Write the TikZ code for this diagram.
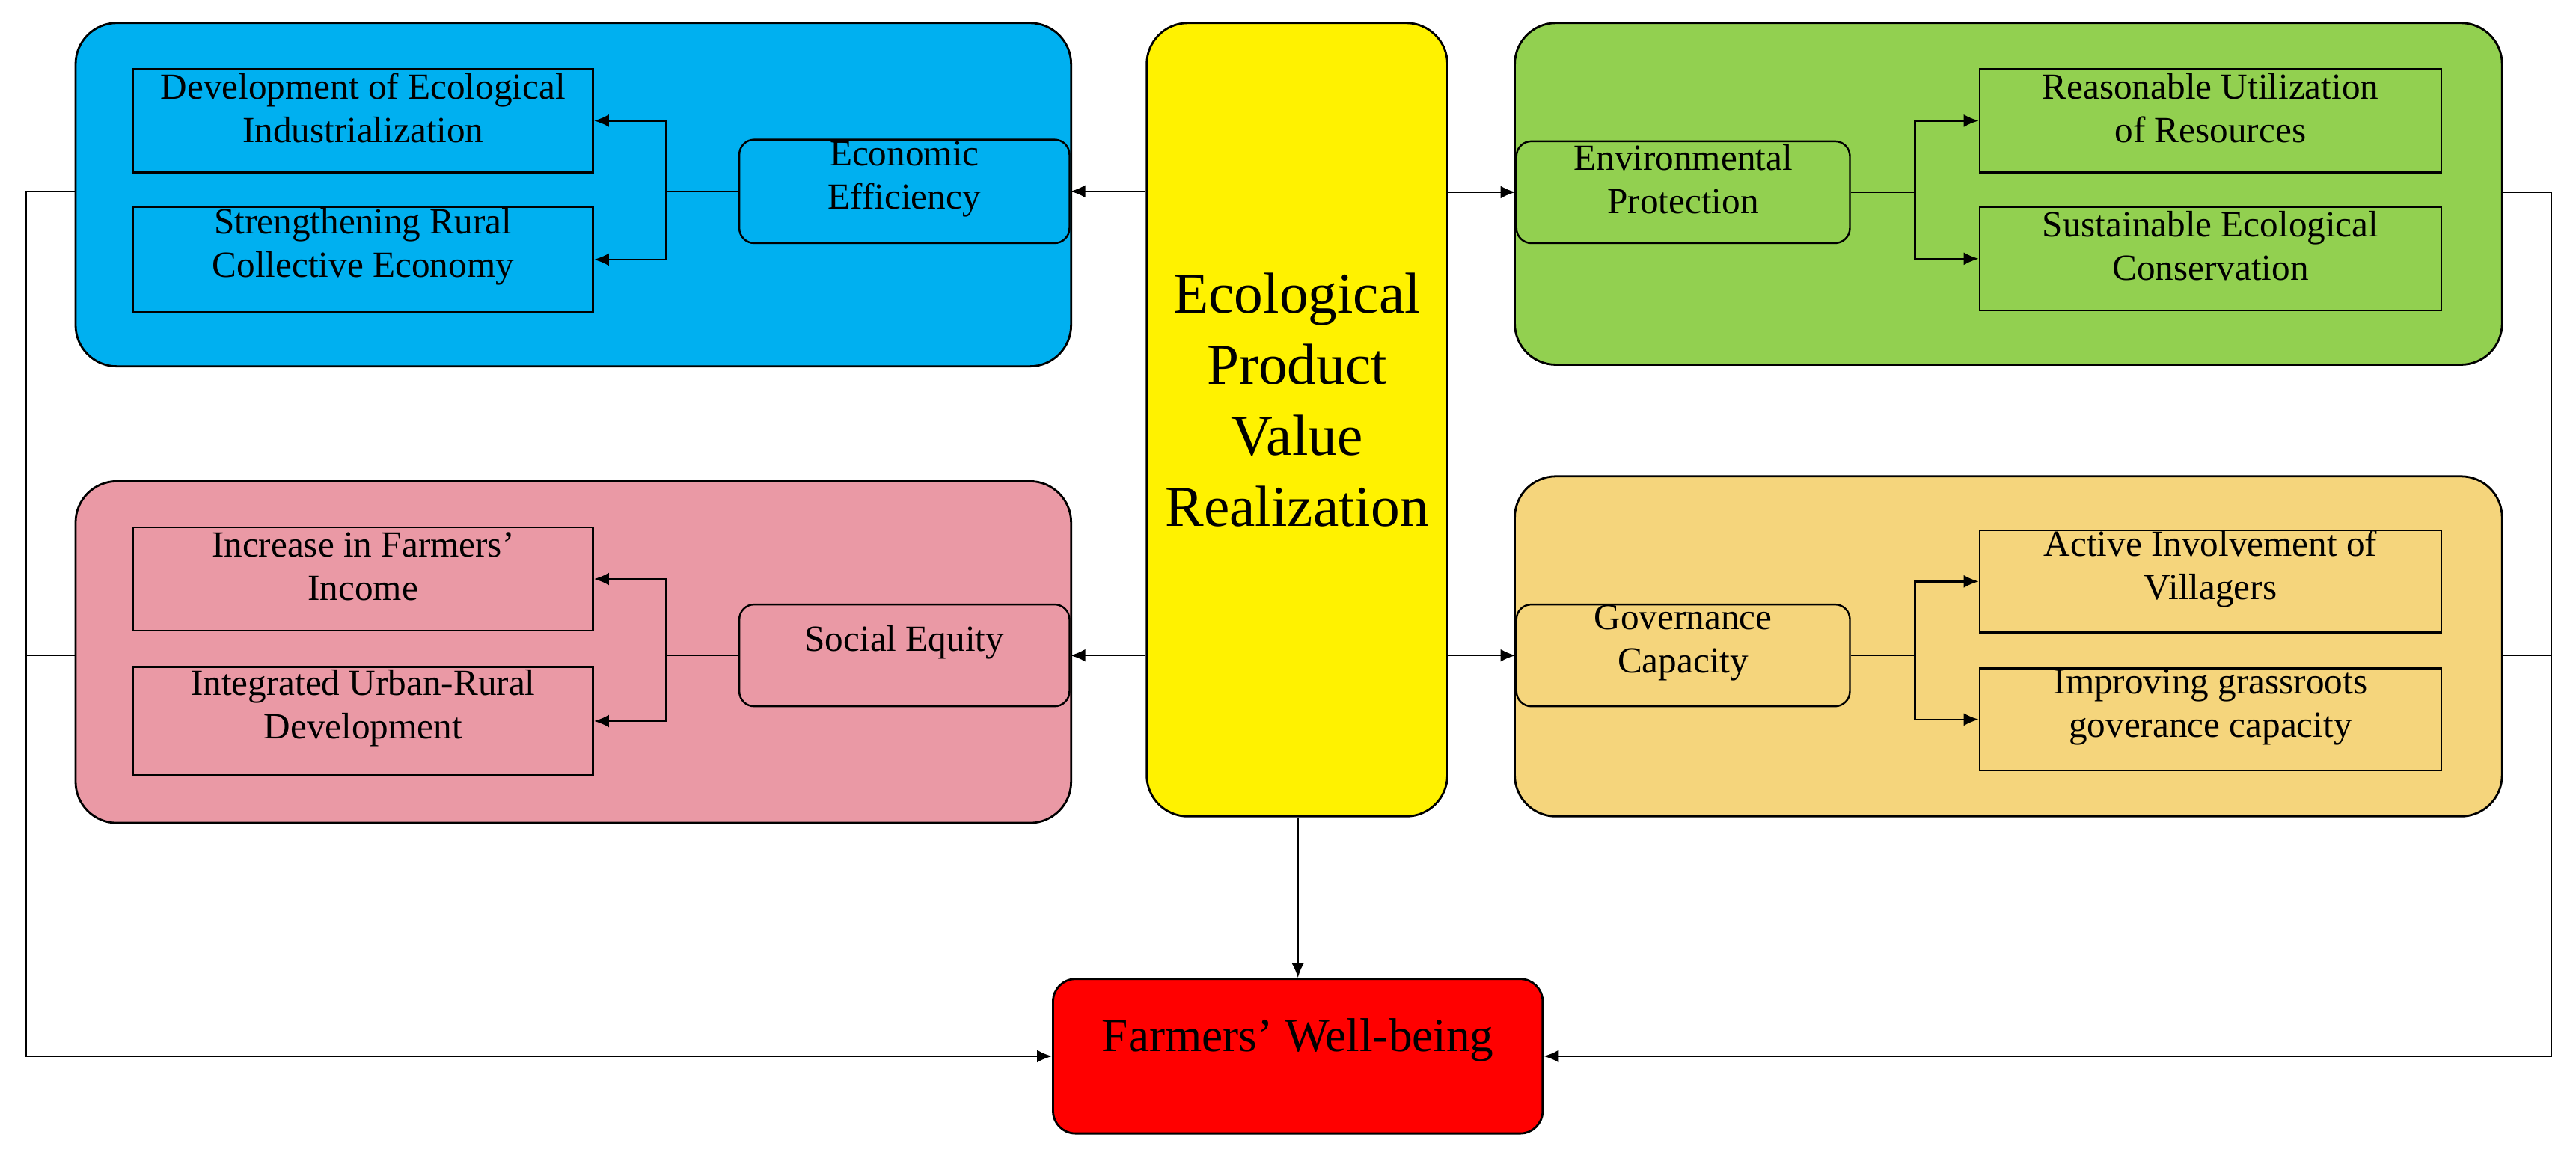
\documentclass[tikz,border=0pt]{standalone}
\usepackage{fontspec}
\setmainfont{Liberation Serif}
\usetikzlibrary{fit,arrows.meta}
\definecolor{cblue}{HTML}{00B0F0}
\definecolor{cgreen}{HTML}{92D050}
\definecolor{cpink}{HTML}{EA99A5}
\definecolor{cgold}{HTML}{F5D57C}
\begin{document}
\begin{tikzpicture}[x=0.02196cm,y=-0.02196cm,
  big/.style={draw,line width=0.8pt,rounded corners=0.55cm,inner sep=0pt},
  sq/.style={draw,line width=0.7pt,inner sep=0pt,align=center,font=\fontsize{14}{16.5}\selectfont},
  rd/.style={sq,rounded corners=0.2cm},
  ln/.style={line width=0.7pt},
  arr/.style={ln,-{Latex[length=2mm,width=1.7mm]}}]
\useasboundingbox (0,0) rectangle (1568,701);
% containers
\node[big,fill=cblue,fit={(46,14)(652,223)}] (blue) {};
\node[big,fill=cgreen,fit={(922,14)(1523,222)}] (green) {};
\node[big,fill=cpink,fit={(46,293)(652,501)}] (pink) {};
\node[big,fill=cgold,fit={(922,290)(1523,497)}] (gold) {};
\node[big,fill=yellow,align=center,font=\fontsize{22}{27}\selectfont,fit={(698,14)(881,497)}] (center) {Ecological\\Product\\Value\\Realization};
\node[big,fill=red,rounded corners=0.3cm,font=\fontsize{18}{22}\selectfont,fit={(641,596)(939,690)}] (red) {Farmers’ Well-being};
% blue
\node[sq,fit={(81,42)(361,105)}] (b1) {Development of Ecological\\Industrialization};
\node[sq,fit={(81,126)(361,190)}] (b2) {Strengthening Rural\\Collective Economy};
\node[rd,fit={(450,85)(651,148)}] (ee) {Economic\\Efficiency};
% green
\node[rd,fit={(923,86)(1126,148)}] (ep) {Environmental\\Protection};
\node[sq,fit={(1205,42)(1486,105)}] (g1) {Reasonable Utilization\\of Resources};
\node[sq,fit={(1205,126)(1486,189)}] (g2) {Sustainable Ecological\\Conservation};
% pink
\node[sq,fit={(81,321)(361,384)}] (p1) {Increase in Farmers’\\Income};
\node[sq,fit={(81,406)(361,472)}] (p2) {Integrated Urban-Rural\\Development};
\node[rd,fit={(450,368)(651,430)}] (se) {Social Equity};
% gold
\node[rd,fit={(923,368)(1126,430)}] (gc) {Governance\\Capacity};
\node[sq,fit={(1205,323)(1486,385)}] (o1) {Active Involvement of\\Villagers};
\node[sq,fit={(1205,407)(1486,469)}] (o2) {Improving grassroots\\goverance capacity};
% trees
\draw[ln] (ee.west) -- ++(-44,0) coordinate (t1);
\draw[arr] (t1) |- (b1); \draw[arr] (t1) |- (b2);
\draw[ln] (se.west) -- ++(-44,0) coordinate (t2);
\draw[arr] (t2) |- (p1); \draw[arr] (t2) |- (p2);
\draw[ln] (ep.east) -- ++(39,0) coordinate (t3);
\draw[arr] (t3) |- (g1); \draw[arr] (t3) |- (g2);
\draw[ln] (gc.east) -- ++(39,0) coordinate (t4);
\draw[arr] (t4) |- (o1); \draw[arr] (t4) |- (o2);
% center arrows
\draw[arr] (center.west |- ee) -- (ee.east);
\draw[arr] (center.east |- ep) -- (ep.west);
\draw[arr] (center.west |- se) -- (se.east);
\draw[arr] (center.east |- gc) -- (gc.west);
\draw[arr] (center.south -| red) -- (red.north);
% outer loops
\coordinate (L) at (16,0);
\coordinate (R) at (1553,0);
\draw[arr] (blue.west |- ee) -- (ee -| L) |- (red.west);
\draw[ln] (pink.west |- se) -- (se -| L);
\draw[arr] (green.east |- ep) -- (ep -| R) |- (red.east);
\draw[ln] (gold.east |- gc) -- (gc -| R);
\end{tikzpicture}
\end{document}
